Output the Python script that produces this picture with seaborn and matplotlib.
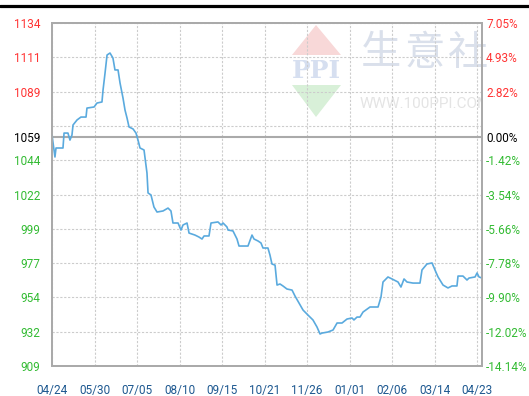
import matplotlib
matplotlib.use('Agg')
import matplotlib.pyplot as plt
import seaborn as sns
import pandas as pd
from matplotlib import font_manager
from matplotlib.patches import Polygon
from matplotlib.lines import Line2D

# daily index (days since 04/24) and price
days = [0, 2.5, 3.4, 9.3, 10.2, 13.5, 15.2, 16.9, 17.8, 21.2, 24.5, 28.8, 29.6, 35.6,
        38.1, 42.3, 43.2, 44.9, 46.6, 49.1, 51.6, 53.3, 55.9, 57.6, 60.1, 61.8, 63.5,
        65.2, 68.6, 71.1, 72.8, 74.5, 77.9, 80.4, 81.3, 83.8, 86.3, 88.9, 94.0, 98.2,
        100.7, 102.4, 106.7, 109.2, 110.9, 114.3, 116.0, 121.0, 124.4, 127.0, 128.7,
        132.9, 134.6, 140.5, 143.1, 144.8, 148.1, 149.0, 153.2, 156.6, 158.3, 165.9,
        169.3, 171.0, 174.4, 176.9, 178.6, 182.8, 184.5, 186.2, 188.8, 190.5, 193.0,
        195.5, 198.9, 203.2, 205.7, 209.1, 212.5, 216.7, 220.9, 224.3, 226.9, 228.6,
        233.6, 237.9, 241.3, 245.5, 249.7, 254.0, 255.6, 258.2, 260.7, 263.3, 269.2,
        276.0, 278.5, 280.2, 284.4, 287.8, 292.9, 295.4, 298.0, 300.5, 305.6, 311.5,
        313.2, 317.4, 321.7, 324.2, 326.8, 331.0, 335.2, 338.6, 342.8, 343.7, 347.9,
        351.3, 353.0, 358.1, 359.8, 361.5, 364.0]
prices = [1060.5, 1046.1, 1052.0, 1052.0, 1061.8, 1061.8, 1057.2, 1060.5, 1067.1,
          1070.4, 1072.3, 1072.3, 1078.2, 1078.9, 1081.5, 1082.2, 1090.0, 1101.2,
          1113.0, 1114.3, 1111.0, 1103.2, 1103.2, 1094.6, 1084.8, 1076.9, 1071.7,
          1065.8, 1064.5, 1061.8, 1057.2, 1052.0, 1050.7, 1035.6, 1022.5, 1021.2,
          1013.3, 1010.0, 1010.7, 1012.6, 1010.7, 1002.8, 1002.8, 998.2, 1001.5,
          1002.8, 996.2, 994.9, 993.6, 992.3, 994.3, 994.3, 1002.8, 1003.5, 1001.5,
          1002.8, 1000.2, 998.2, 997.6, 992.3, 987.7, 987.7, 994.9, 992.3, 991.0,
          989.7, 986.4, 986.4, 981.8, 975.9, 975.2, 962.1, 962.8, 961.5, 959.5,
          958.8, 954.9, 950.3, 945.7, 942.4, 939.2, 934.6, 930.0, 930.6, 931.3,
          932.6, 937.2, 937.2, 939.8, 940.5, 939.2, 941.1, 941.1, 944.4, 947.7,
          947.7, 954.3, 964.1, 967.4, 966.1, 964.1, 960.8, 966.1, 964.1, 963.4,
          963.4, 972.0, 975.9, 976.6, 972.0, 967.4, 962.1, 960.2, 961.5, 961.5,
          968.0, 968.0, 965.4, 966.7, 967.4, 970.0, 967.4, 966.7]

tick_days = [0, 36, 72, 108, 144, 180, 216, 252, 288, 324, 360]
tick_labels = ['04/24', '05/30', '07/05', '08/10', '09/15', '10/21',
               '11/26', '01/01', '02/06', '03/14', '04/23']
grid_levels = [909, 931.5, 954, 976.5, 999, 1021.5, 1044, 1066.5, 1089, 1111.5, 1134]
base = 1059
ytick_vals = [1134, 1111.5, 1089, 1059, 1044, 1021.5, 999, 976.5, 954, 931.5, 909]
left_labels = ['1134', '1111', '1089', '1059', '1044', '1022', '999', '977',
               '954', '932', '909']
right_labels = ['7.05%', '4.93%', '2.82%', '0.00%', '-1.42%', '-3.54%', '-5.66%',
                '-7.78%', '-9.90%', '-12.02%', '-14.14%']


def pick_font(names):
    for n in names:
        try:
            font_manager.findfont(font_manager.FontProperties(family=n),
                                  fallback_to_default=False)
            return n
        except Exception:
            pass
    return 'DejaVu Sans'


sns.set_style('white')
label_font = pick_font(['Liberation Sans Narrow', 'Roboto'])
fs = 10 if label_font == 'Liberation Sans Narrow' else 8.5
plt.rcParams['font.family'] = [label_font, 'DejaVu Sans']

df = pd.DataFrame({'day': days, 'price': prices})

fig = plt.figure(figsize=(5.29, 3.96), dpi=100)
ax = fig.add_axes([52 / 529, 30 / 396, 430 / 529, 343 / 396])

# watermark
wm = dict(transform=fig.transFigure, zorder=0)
ax.add_patch(Polygon([(292 / 529, 1 - 55 / 396), (341 / 529, 1 - 55 / 396),
                      (316 / 529, 1 - 25 / 396)], closed=True, fc='#f8d8d8', ec='none', **wm))
ax.add_patch(Polygon([(292 / 529, 1 - 85 / 396), (341 / 529, 1 - 85 / 396),
                      (316 / 529, 1 - 117 / 396)], closed=True, fc='#d8f0d8', ec='none', **wm))
ax.text(316 / 529, 1 - 71 / 396, 'PPI', fontsize=18, family='DejaVu Serif',
        fontweight='bold', color='#d6dff0', ha='center', va='center', **wm)
for ch, cx in zip(['生', '意', '社'], [381, 425, 468]):
    ax.text(cx / 529, 1 - 53 / 396, ch, fontsize=29,
            family=['Noto Sans CJK SC', 'DejaVu Sans'], color='#dae0eb',
            ha='center', va='center', clip_on=False, **wm)
ax.text(425 / 529, 1 - 104 / 396, 'WWW.100PPI.COM', fontsize=11, color='#e4e4e4',
        ha='center', va='center', clip_on=True, **wm)

# grid
for g in grid_levels:
    ax.axhline(g, color='#cccccc', lw=0.8, ls=(0, (2, 1.5)), zorder=1)
for t in tick_days:
    ax.axvline(t, color='#cccccc', lw=0.8, ls=(0, (2, 1.5)), zorder=1)
ax.axhline(base, color='#aaaaaa', lw=1.5, zorder=2)

sns.lineplot(data=df, x='day', y='price', color='#5aaade', lw=1.2, ax=ax, zorder=3)

ax.set_xlim(0, 364)
ax.set_ylim(909, 1134)
ax.set_xlabel('')
ax.set_ylabel('')
ax.set_xticks(tick_days)
ax.set_xticklabels(tick_labels, color='#1d5890', fontsize=fs)
ax.set_yticks(ytick_vals)
ax.set_yticklabels(left_labels, fontsize=fs)
ax.tick_params(axis='x', length=0, pad=13)
ax.tick_params(axis='y', length=0, pad=8.6)

ax2 = ax.twinx()
ax2.set_ylim(909, 1134)
ax2.set_yticks(ytick_vals)
ax2.set_yticklabels(right_labels, fontsize=fs)
ax2.tick_params(axis='y', length=0, pad=3)


def lab_color(v):
    if v > base:
        return '#ff3333'
    if v < base:
        return '#33bb33'
    return 'black'


for lab, v in zip(ax.get_yticklabels(), ytick_vals):
    lab.set_color(lab_color(v))
for lab, v in zip(ax2.get_yticklabels(), ytick_vals):
    lab.set_color(lab_color(v))

for a in (ax, ax2):
    for s in a.spines.values():
        s.set_color('#aaaaaa')
        s.set_linewidth(1.3)

fig.add_artist(Line2D([0, 1], [1 - 5.5 / 396, 1 - 5.5 / 396], color='black',
                      lw=2.3, transform=fig.transFigure))

fig.savefig('out.png', dpi=100)
